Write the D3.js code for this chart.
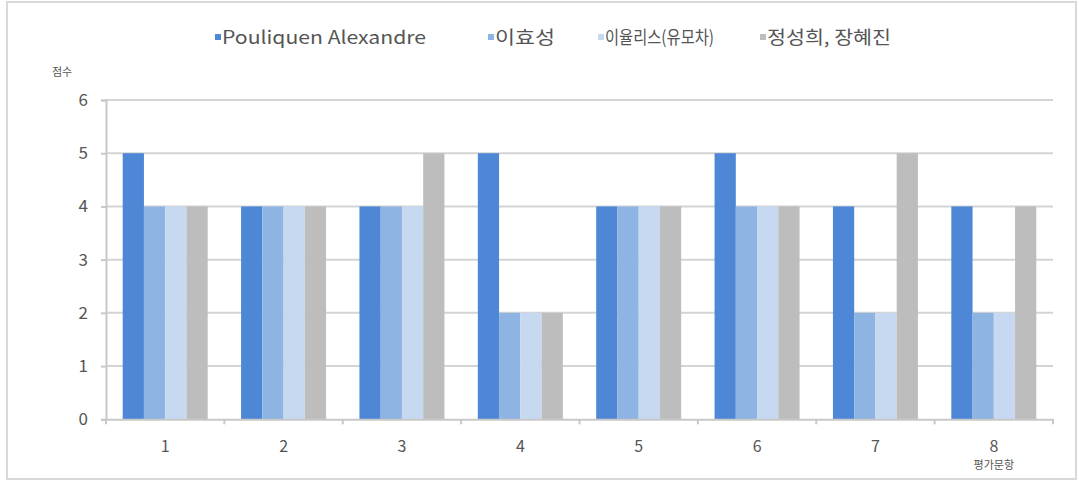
<!DOCTYPE html>
<html>
<head>
<meta charset="utf-8">
<script src="https://cdn.jsdelivr.net/npm/d3@7"></script>
<style>
  body { margin: 0; background: #fff; }
  text { font-family: "Noto Sans CJK KR", "Noto Sans", sans-serif; fill: #555; }
</style>
</head>
<body>
<div id="chart"></div>
<script>
// chart data
var categories = ["1", "2", "3", "4", "5", "6", "7", "8"];
var seriesNames = ["Pouliquen Alexandre", "이효성", "이율리스(유모차)", "정성희, 장혜진"];
var pouliquen = [5, 4, 4, 5, 4, 5, 4, 4];
var leeHyoseong = [4, 4, 4, 2, 4, 4, 2, 2];
var leeYulis = [4, 4, 4, 2, 4, 4, 2, 2];
var jeongJang = [4, 4, 5, 2, 4, 4, 5, 4];
var yTicks = [0, 1, 2, 3, 4, 5, 6];
var colors = ["#4e87d6", "#8eb4e3", "#c6d9f1", "#bdbdbd"];

var allSeries = [pouliquen, leeHyoseong, leeYulis, jeongJang];

var width = 1079, height = 482;
var margin = { left: 106, right: 26, top: 100, bottom: 62 };

var svg = d3.select("#chart").append("svg")
    .attr("width", width)
    .attr("height", height);

// outer frame
svg.append("rect")
    .attr("x", 7).attr("y", 2)
    .attr("width", 1069).attr("height", 477)
    .attr("fill", "#fff")
    .attr("stroke", "#d9d9d9")
    .attr("stroke-width", 2);

var x = d3.scaleBand()
    .domain(categories)
    .range([margin.left, width - margin.right])
    .paddingInner(0.282)
    .paddingOuter(0.141);

var xInner = d3.scaleBand()
    .domain(d3.range(seriesNames.length))
    .range([0, x.bandwidth()]);

var y = d3.scaleLinear()
    .domain([0, 6])
    .range([height - margin.bottom - 0.7, margin.top]);

// gridlines
svg.append("g")
    .selectAll("line")
    .data(yTicks.filter(function(d) { return d > 0; }))
    .enter().append("line")
    .attr("x1", margin.left).attr("x2", width - margin.right)
    .attr("y1", function(d) { return y(d); })
    .attr("y2", function(d) { return y(d); })
    .attr("stroke", "#d4d4d4")
    .attr("stroke-width", 2);

// bars
var groups = svg.append("g")
    .selectAll("g")
    .data(categories)
    .enter().append("g")
    .attr("transform", function(d) { return "translate(" + x(d) + ",0)"; });

groups.selectAll("rect")
    .data(function(d, i) {
        return allSeries.map(function(s, k) { return { k: k, v: s[i] }; });
    })
    .enter().append("rect")
    .attr("x", function(d) { return xInner(d.k); })
    .attr("width", xInner.bandwidth())
    .attr("y", function(d) { return y(d.v); })
    .attr("height", function(d) { return y(0) - y(d.v); })
    .attr("fill", function(d) { return colors[d.k]; });

// y axis
var yAxis = svg.append("g")
    .attr("transform", "translate(" + margin.left + ",0)")
    .call(d3.axisLeft(y).tickValues(yTicks).tickSize(5).tickPadding(13).tickFormat(d3.format("d")));
yAxis.select(".domain").attr("stroke", "#c8c8c8").attr("stroke-width", 2);
yAxis.selectAll(".tick line").attr("stroke", "#c8c8c8").attr("stroke-width", 2);
yAxis.selectAll(".tick text").style("font-size", "17px").attr("fill", "#555");

// x axis
var xAxis = svg.append("g")
    .attr("transform", "translate(0," + y(0) + ")")
    .call(d3.axisBottom(x).tickSize(0).tickPadding(21));
xAxis.select(".domain").attr("stroke", "#c8c8c8").attr("stroke-width", 2);
xAxis.selectAll(".tick text").style("font-size", "16px").attr("fill", "#555");

// small ticks between categories
var step = x.step();
svg.append("g")
    .selectAll("line")
    .data(d3.range(categories.length + 1))
    .enter().append("line")
    .attr("x1", function(i) { return margin.left + i * step; })
    .attr("x2", function(i) { return margin.left + i * step; })
    .attr("y1", y(0)).attr("y2", y(0) + 5)
    .attr("stroke", "#c8c8c8").attr("stroke-width", 2);

// axis titles
svg.append("text")
    .attr("x", 62).attr("y", 76)
    .attr("text-anchor", "middle")
    .style("font-size", "11px")
    .text("점수");

svg.append("text")
    .attr("x", x("8") + x.bandwidth() / 2).attr("y", 469)
    .attr("text-anchor", "middle")
    .style("font-size", "11px")
    .text("평가문항");

// legend
var legendX = [215, 488, 598, 760];
var legendW = [204, 60, 109, 124];
var legend = svg.append("g")
    .selectAll("g")
    .data(seriesNames)
    .enter().append("g")
    .attr("transform", function(d, i) { return "translate(" + legendX[i] + ",38)"; });

legend.append("rect")
    .attr("x", 0).attr("y", -4)
    .attr("width", 6).attr("height", 6)
    .attr("fill", function(d, i) { return colors[i]; });

legend.append("text")
    .attr("x", 7).attr("y", 0)
    .attr("dy", "0.35em")
    .style("font-size", "18px")
    .attr("textLength", function(d, i) { return legendW[i]; })
    .attr("lengthAdjust", "spacingAndGlyphs")
    .text(function(d) { return d; });
</script>
</body>
</html>
